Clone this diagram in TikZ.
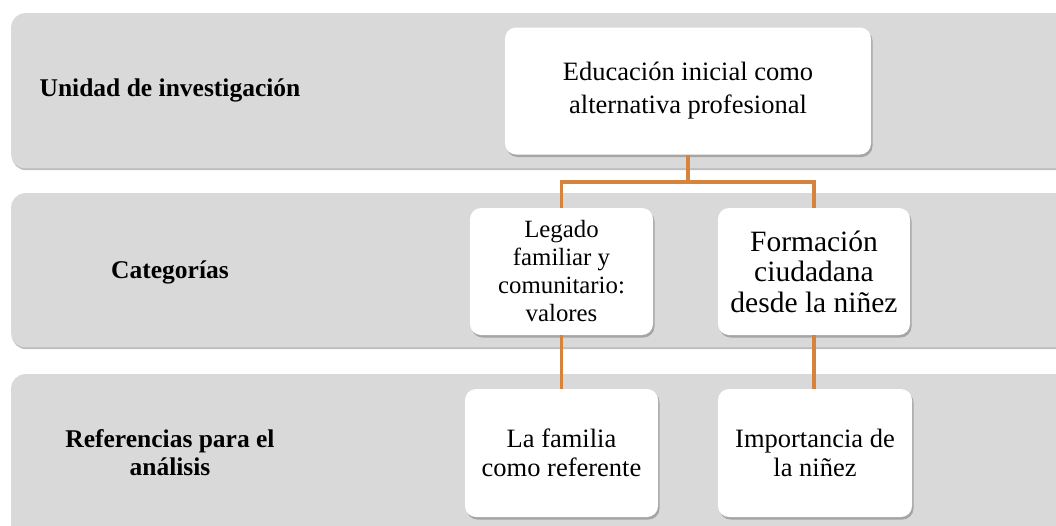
\documentclass[tikz,border=0pt]{standalone}
\usepackage{fontspec}
\setmainfont{Liberation Serif}
\usetikzlibrary{shadows}
\definecolor{bandgray}{RGB}{217,217,217}
\definecolor{linkorange}{RGB}{214,131,60}
\tikzset{
  band/.style={rectangle, rounded corners=14pt, fill=bandgray, draw=none, anchor=north west,
    drop shadow={shadow xshift=0.8pt, shadow yshift=-2pt, opacity=0.45, fill=black!55}},
  card/.style={rectangle, rounded corners=11pt, fill=white, draw=none, align=center,
    inner sep=2pt,
    drop shadow={shadow xshift=1.5pt, shadow yshift=-2.5pt, opacity=0.45, fill=black!60}},
  rowlabel/.style={align=center, font=\bfseries\fontsize{25.5}{28}\selectfont},
  link/.style={draw=linkorange, line width=3.8pt}
}
\begin{document}
\begin{tikzpicture}[x=1pt,y=-1pt]
\useasboundingbox (0,0) rectangle (1056,525);
\clip (0,0) rectangle (1056,525);
\fill[white] (0,0) rectangle (1056,525);
% bands
\node[band, minimum width=1070pt, minimum height=155pt] (band1) at (11,13) {};
\node[band, minimum width=1070pt, minimum height=154pt] (band2) at (11,193) {};
\node[band, minimum width=1070pt, minimum height=175pt] (band3) at (11,374) {};
% row labels
\node[rowlabel] (lab1) at (170,90) {Unidad de investigación};
\node[rowlabel] (lab2) at (170,272) {Categorías};
\node[rowlabel] (lab3) at (170,453) {Referencias para el\\análisis};
% cards
\node[card, minimum width=366pt, minimum height=127pt,
  font=\fontsize{26.5}{33}\selectfont] (top) at (688,91)
  {Educación inicial como\\alternativa profesional};
\node[card, minimum width=183pt, minimum height=127pt,
  font=\fontsize{24.8}{28}\selectfont] (leg) at (561.5,271.5)
  {Legado\\familiar y\\comunitario:\\valores};
\node[card, minimum width=192pt, minimum height=127pt,
  font=\fontsize{29.5}{30.5}\selectfont] (form) at (814,271.5)
  {Formación\\ciudadana\\desde la niñez};
\node[card, minimum width=193pt, minimum height=128pt,
  font=\fontsize{26.5}{28.5}\selectfont] (fam) at (561.5,453)
  {La familia\\como referente};
\node[card, minimum width=194pt, minimum height=128pt,
  font=\fontsize{26.5}{28.5}\selectfont] (imp) at (815,453)
  {Importancia de\\la niñez};
% connectors
\coordinate (split) at (688,182);
\draw[link] (top.south) -- (split);
\draw[link] (split) -| (leg.north);
\draw[link] (split) -| (form.north);
\draw[link] (leg.south) -- (fam.north);
\draw[link] (form.south) -- (form.south |- imp.north);
\end{tikzpicture}
\end{document}
